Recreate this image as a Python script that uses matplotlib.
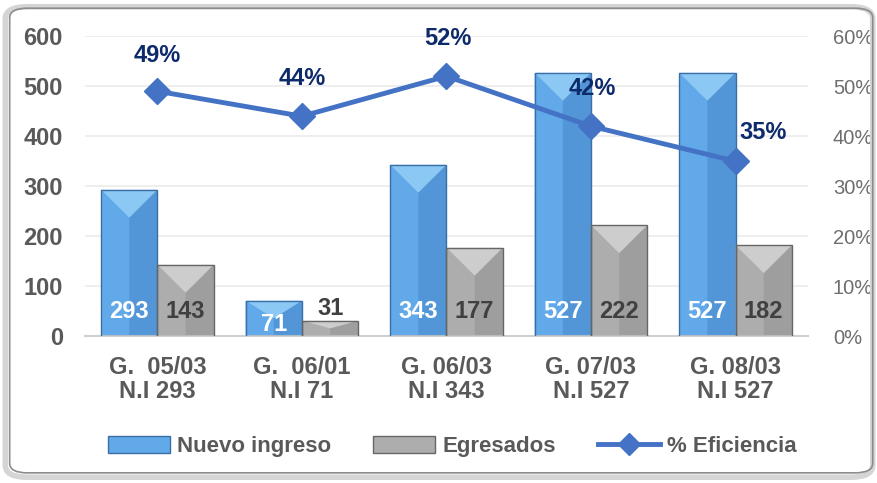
import matplotlib
matplotlib.use("Agg")
from matplotlib import pyplot as plt
from matplotlib.patches import Polygon, FancyBboxPatch, Rectangle
from matplotlib.lines import Line2D
import numpy as np

# Datos
grupos = ["G.  05/03\nN.I 293", "G.  06/01\nN.I 71", "G. 06/03\nN.I 343",
          "G. 07/03\nN.I 527", "G. 08/03\nN.I 527"]
nuevo_ingreso = [293, 71, 343, 527, 527]
egresados = [143, 31, 177, 222, 182]
eficiencia = [49, 44, 52, 42, 35]

AZUL = "#5296D8"
AZUL_L = "#62A9EA"
AZUL_TOP = "#9AD6FC"
AZUL_EDGE = "#3A6EA5"
GRIS = "#9E9E9E"
GRIS_L = "#ADADAD"
GRIS_TOP = "#DADADA"
GRIS_EDGE = "#666666"
LINEA = "#4472C4"
TXT = "#595959"

plt.rcParams["font.family"] = ["Liberation Sans", "DejaVu Sans"]

fig = plt.figure(figsize=(8.78, 4.83), dpi=100)
# marco redondeado doble
fig.patches.append(FancyBboxPatch((0.006, 0.012), 0.988, 0.974,
                                  boxstyle="round,pad=0,rounding_size=0.025",
                                  transform=fig.transFigure, fill=False,
                                  edgecolor="#D5D5D5", linewidth=4))
fig.patches.append(FancyBboxPatch((0.011, 0.021), 0.983, 0.962,
                                  boxstyle="round,pad=0,rounding_size=0.02",
                                  transform=fig.transFigure, fill=False,
                                  edgecolor="#8C8C8C", linewidth=1.2))

ax = fig.add_axes([0.097, 0.304, 0.823, 0.621])
ax2 = ax.twinx()

x = np.arange(len(grupos))
w = 0.39


def bevel(ax, bars, left_color, top_color, edge):
    # mitad izquierda mas clara, triangulo claro arriba y borde encima
    for b in bars:
        x0, y0 = b.get_x(), b.get_y()
        bw, bh = b.get_width(), b.get_height()
        depth = min(56, bh * 0.5)
        left = Polygon([(x0, y0), (x0 + bw / 2, y0),
                        (x0 + bw / 2, y0 + bh - depth), (x0, y0 + bh)],
                       closed=True, facecolor=left_color, edgecolor="none",
                       zorder=2.5)
        tri = Polygon([(x0, y0 + bh), (x0 + bw, y0 + bh),
                       (x0 + bw / 2, y0 + bh - depth)],
                      closed=True, facecolor=top_color, edgecolor="none",
                      alpha=0.8, zorder=3)
        borde = Rectangle((x0, y0), bw, bh, fill=False, edgecolor=edge,
                          linewidth=1, zorder=3.5)
        ax.add_patch(left)
        ax.add_patch(tri)
        ax.add_patch(borde)


b1 = ax.bar(x - w / 2, nuevo_ingreso, w, color=AZUL, linewidth=0, zorder=2)
b2 = ax.bar(x + w / 2, egresados, w, color=GRIS, linewidth=0, zorder=2)
bevel(ax, b1, AZUL_L, AZUL_TOP, AZUL_EDGE)
bevel(ax, b2, GRIS_L, GRIS_TOP, GRIS_EDGE)

for i, (n, e) in enumerate(zip(nuevo_ingreso, egresados)):
    yn = 50 if n > 100 else 24
    ax.text(x[i] - w / 2, yn, str(n), ha="center", va="center",
            color="white", fontsize=17, fontweight="bold", zorder=4)
    if e > 60:
        ax.text(x[i] + w / 2, 50, str(e), ha="center", va="center",
                color="#404040", fontsize=17, fontweight="bold", zorder=4)
    else:
        ax.text(x[i] + w / 2, e + 24, str(e), ha="center", va="center",
                color="#404040", fontsize=17, fontweight="bold", zorder=4)

ax.set_xlim(-0.5, len(grupos) - 0.5)
ax.set_ylim(0, 600)
ax.set_yticks(range(0, 601, 100))
ax.set_xticks(x)
ax.set_xticklabels(grupos, fontsize=17, fontweight="bold", color=TXT,
                   linespacing=1.05)
ax.tick_params(axis="y", labelsize=17, colors=TXT, length=0, pad=16)
ax.tick_params(axis="x", length=0, pad=14)
for lbl in ax.get_yticklabels():
    lbl.set_fontweight("bold")
ax.grid(axis="y", color="#EBEBEB", linewidth=1.2, zorder=0)
ax.set_axisbelow(True)
for s in ["top", "left", "right"]:
    ax.spines[s].set_visible(False)
ax.spines["bottom"].set_color("#D0D0D0")
ax.spines["bottom"].set_linewidth(1.5)

# Eficiencia
ax2.plot(x, eficiencia, color=LINEA, linewidth=3.5, marker="D",
         markersize=13, zorder=5)
ax2.set_ylim(0, 60)
ax2.set_yticks(range(0, 61, 10))
ax2.set_yticklabels([f"{v}%" for v in range(0, 61, 10)])
ax2.tick_params(axis="y", labelsize=14.5, colors="#6E6E6E", length=0, pad=18)
for s in ["top", "left", "right", "bottom"]:
    ax2.spines[s].set_visible(False)
offsets = [(0, 26), (0, 27), (1, 27), (1, 27), (20, 21)]
for i, v in enumerate(eficiencia):
    ax2.annotate(f"{v}%", (x[i], v), xytext=offsets[i],
                 textcoords="offset points", ha="center", va="center",
                 color="#0D2A6B", fontsize=17, fontweight="bold", zorder=6)

# Leyenda
handles = [
    plt.Rectangle((0, 0), 1, 1, facecolor=AZUL_L, edgecolor=AZUL_EDGE),
    plt.Rectangle((0, 0), 1, 1, facecolor=GRIS_L, edgecolor=GRIS_EDGE),
    Line2D([0], [0], color=LINEA, linewidth=3.5, marker="D", markersize=11),
]
fig.legend(handles, ["Nuevo ingreso", "Egresados", "% Eficiencia"],
           loc="center", bbox_to_anchor=(0.515, 0.075), ncol=3,
           frameon=False, handlelength=2.8, handleheight=0.8,
           columnspacing=1.9, handletextpad=0.3,
           prop={"size": 16, "weight": "bold"}, labelcolor=TXT)

fig.savefig("out.png", dpi=100)
